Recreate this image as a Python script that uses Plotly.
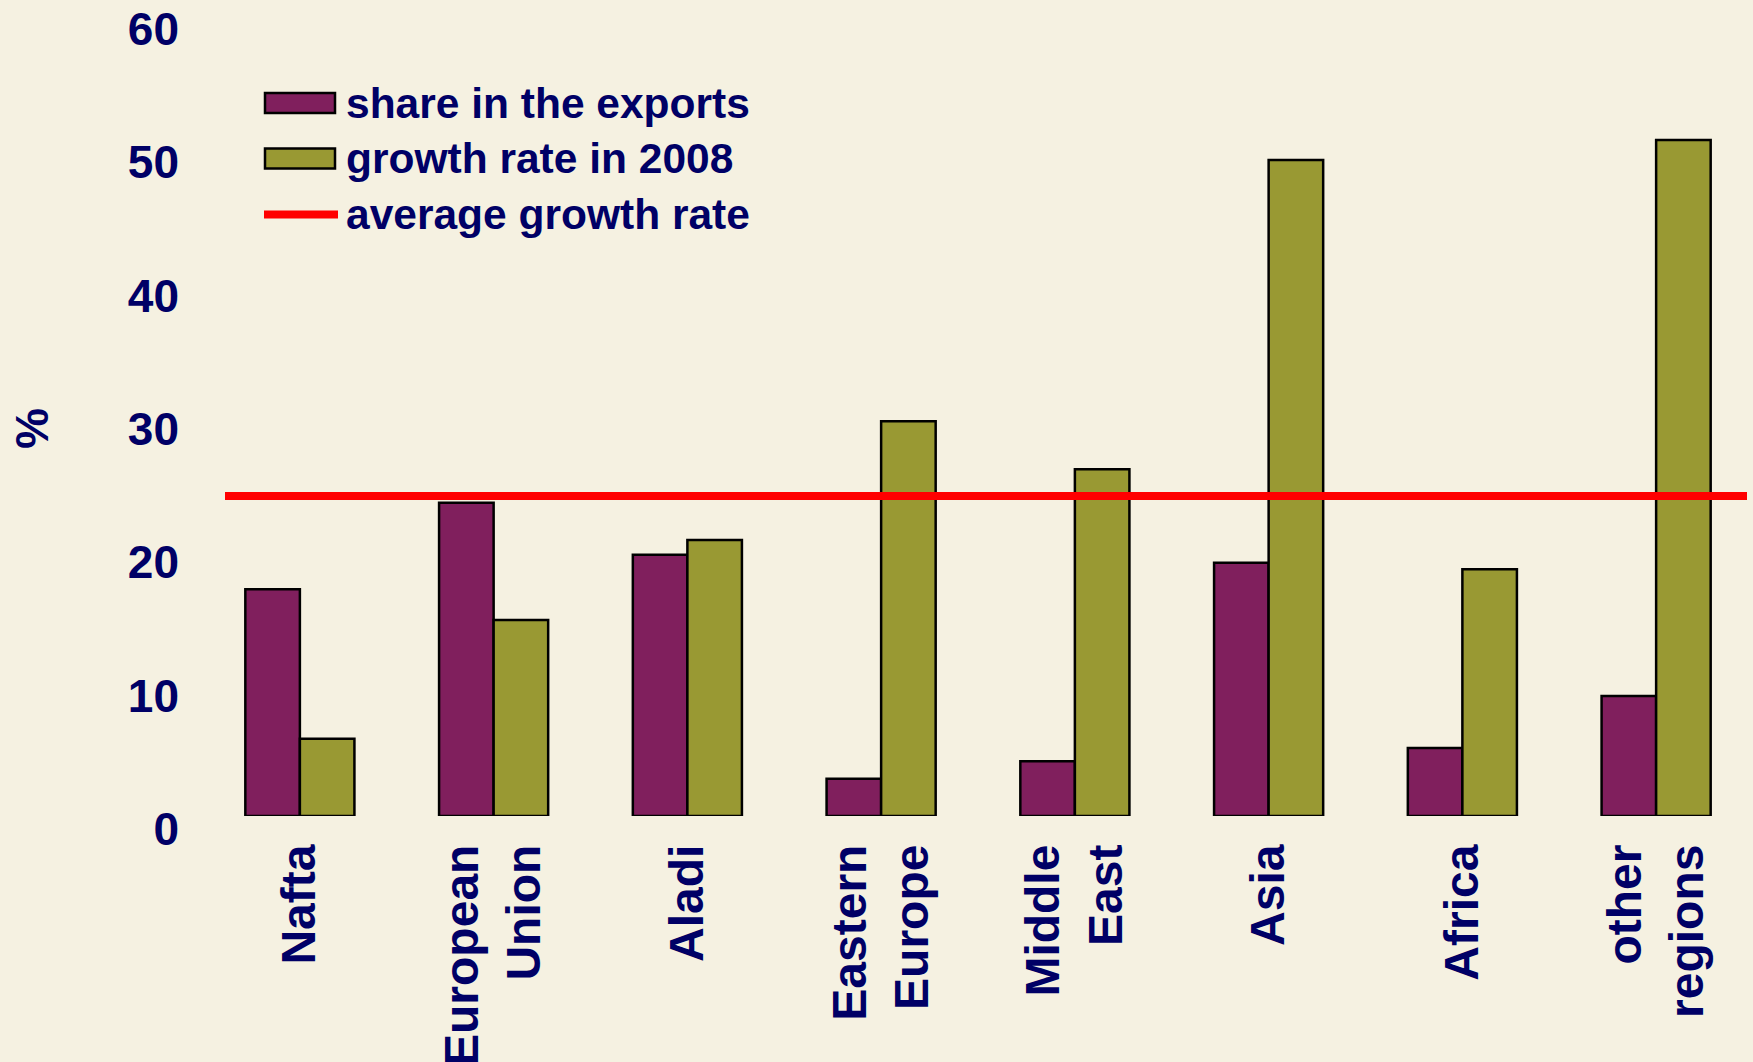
import plotly.graph_objects as go

# ---- data ----
categories = ["Nafta", "European Union", "Aladi", "Eastern Europe",
              "Middle East", "Asia", "Africa", "other regions"]
tick_labels = ["Nafta", "European<br>Union", "Aladi", "Eastern<br>Europe",
               "Middle<br>East", "Asia", "Africa", "other<br>regions"]
share_exports = [17.0, 23.5, 19.6, 2.8, 4.1, 19.0, 5.1, 9.0]
growth_2008 = [5.8, 14.7, 20.7, 29.6, 26.0, 49.2, 18.5, 50.7]
avg_growth = 24.0
y_ticks = [0, 10, 20, 30, 40, 50, 60]
y_title = "%"

series_names = ["share in the exports", "growth rate in 2008", "average growth rate"]

# ---- style ----
W, H = 1753, 1062
ML, MR, MT, MB = 203, 0, 16, 246
PW, PH = W - ML - MR, H - MT - MB
PURPLE = "#801F5D"
OLIVE = "#999933"
RED = "#FF0000"
NAVY = "#000066"
BG = "#F5F1E1"
FONT = "Liberation Sans, Arial, sans-serif"


def px_x(px):
    return (px - ML) / PW


def px_y(py):
    return (H - MB - py) / PH


fig = go.Figure()
fig.add_trace(go.Bar(x=categories, y=share_exports, name=series_names[0],
                     marker=dict(color=PURPLE, line=dict(color="black", width=2.5)),
                     showlegend=False))
fig.add_trace(go.Bar(x=categories, y=growth_2008, name=series_names[1],
                     marker=dict(color=OLIVE, line=dict(color="black", width=2.5)),
                     showlegend=False))

# average growth line
fig.add_shape(type="line", xref="paper", yref="y",
              x0=px_x(225), x1=px_x(1747), y0=avg_growth, y1=avg_growth,
              line=dict(color=RED, width=8))

# custom legend
rows_y = [103, 158.5, 214.5]
for i, name in enumerate(series_names):
    cy = rows_y[i]
    if i < 2:
        fig.add_shape(type="rect", xref="paper", yref="paper",
                      x0=px_x(265), x1=px_x(335), y0=px_y(cy - 10), y1=px_y(cy + 10),
                      fillcolor=[PURPLE, OLIVE][i], line=dict(color="black", width=2.5))
    else:
        fig.add_shape(type="line", xref="paper", yref="paper",
                      x0=px_x(264), x1=px_x(338), y0=px_y(cy), y1=px_y(cy),
                      line=dict(color=RED, width=8))
    fig.add_annotation(x=px_x(344), y=px_y(cy), xref="paper", yref="paper",
                       text=name, showarrow=False, xanchor="left", yanchor="middle",
                       font=dict(family=FONT, size=42.5, color=NAVY, weight="bold"))

# y axis title ("%")
fig.add_annotation(x=px_x(32), y=px_y(429), xref="paper", yref="paper",
                   text=y_title, showarrow=False, textangle=-90,
                   xanchor="center", yanchor="middle",
                   font=dict(family=FONT, size=46, color=NAVY, weight="bold"))

fig.update_layout(
    width=W, height=H,
    margin=dict(l=ML, r=MR, t=MT, b=MB, autoexpand=False),
    paper_bgcolor=BG, plot_bgcolor="rgba(0,0,0,0)",
    barmode="group", bargap=0.437, bargroupgap=0,
    font=dict(family=FONT, color=NAVY),
    showlegend=False,
)
fig.update_xaxes(
    tickmode="array", tickvals=categories, ticktext=tick_labels,
    tickangle=-90, showgrid=False, zeroline=False, showline=False, ticks="",
    tickfont=dict(family=FONT, size=48, color=NAVY, weight="bold"),
    ticklabelstandoff=18, ticklabeloverflow="allow",
    range=[-0.5, 7.5], automargin=False,
)
fig.update_yaxes(
    range=[0, 60], tickmode="array", tickvals=y_ticks,
    showgrid=False, zeroline=False, showline=False, ticks="",
    tickfont=dict(family=FONT, size=46, color=NAVY, weight="bold"),
    ticklabelshift=13, ticklabelstandoff=23, ticklabeloverflow="allow",
    automargin=False,
)

fig.write_html("out.html", config={"displayModeBar": False},
               post_script="document.body.style.margin='0';")
